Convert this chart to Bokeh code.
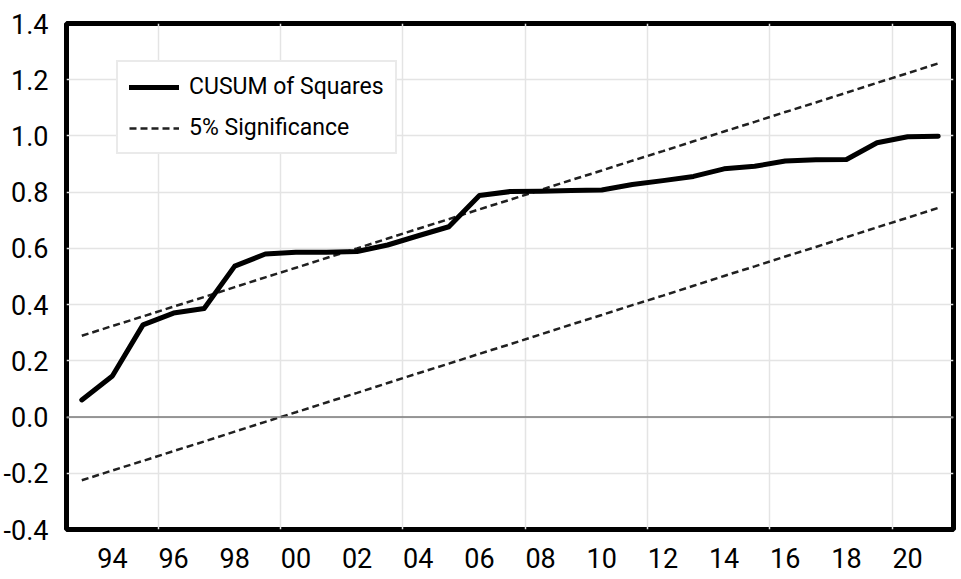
from bokeh.plotting import figure
from bokeh.models import FixedTicker, Span, Legend, LegendItem, Range1d, NumeralTickFormatter
from bokeh.embed import file_html
from bokeh.resources import INLINE

# ---- data ----
years = list(range(1993, 2022))
cusum = [0.061, 0.146, 0.328, 0.370, 0.386, 0.537, 0.580, 0.586, 0.586, 0.589,
         0.612, 0.645, 0.677, 0.788, 0.802, 0.803, 0.806, 0.808, 0.827, 0.841,
         0.856, 0.883, 0.892, 0.911, 0.915, 0.916, 0.976, 0.997, 0.999]
upper = [0.289, 0.324, 0.358, 0.393, 0.427, 0.462, 0.497, 0.531, 0.566, 0.600,
         0.635, 0.670, 0.704, 0.739, 0.773, 0.808, 0.843, 0.877, 0.912, 0.946,
         0.981, 1.016, 1.050, 1.085, 1.119, 1.154, 1.189, 1.223, 1.258]
lower = [-0.225, -0.190, -0.156, -0.121, -0.087, -0.052, -0.017, 0.017, 0.052, 0.086,
         0.121, 0.156, 0.190, 0.225, 0.259, 0.294, 0.329, 0.363, 0.398, 0.432,
         0.467, 0.502, 0.536, 0.571, 0.605, 0.640, 0.675, 0.709, 0.744]
x_ticks = [1994, 1996, 1998, 2000, 2002, 2004, 2006, 2008, 2010, 2012, 2014, 2016, 2018, 2020]
x_tick_labels = ["94", "96", "98", "00", "02", "04", "06", "08", "10", "12", "14", "16", "18", "20"]
x_grid = [1995.5, 1999.5, 2003.5, 2007.5, 2011.5, 2015.5, 2019.5]
y_ticks = [-0.4, -0.2, 0.0, 0.2, 0.4, 0.6, 0.8, 1.0, 1.2, 1.4]
series_labels = ["CUSUM of Squares", "5% Significance"]

FONT = "Roboto"

p = figure(width=961, height=579,
           x_range=Range1d(1992.5, 2021.5), y_range=Range1d(-0.4, 1.4),
           output_backend="svg", toolbar_location=None,
           min_border_left=66, min_border_top=23, min_border_right=8, min_border_bottom=50)

p.background_fill_color = "white"
p.border_fill_color = "white"
p.outline_line_color = "black"
p.outline_line_width = 5

# grids
p.xgrid.ticker = FixedTicker(ticks=x_grid)
p.ygrid.ticker = FixedTicker(ticks=y_ticks)
p.xgrid.grid_line_color = "#e4e4e4"
p.ygrid.grid_line_color = "#e4e4e4"
p.xgrid.grid_line_width = 1.5
p.ygrid.grid_line_width = 1.5

# axes
p.xaxis.ticker = FixedTicker(ticks=x_ticks)
p.xaxis.major_label_overrides = {t: l for t, l in zip(x_ticks, x_tick_labels)}
p.yaxis.ticker = FixedTicker(ticks=y_ticks)
p.yaxis.formatter = NumeralTickFormatter(format="0.0")
for ax in (p.xaxis, p.yaxis):
    ax.axis_line_color = None
    ax.major_tick_line_color = None
    ax.minor_tick_line_color = None
    ax.major_label_text_font = FONT
    ax.major_label_text_font_size = "27px"
    ax.major_label_text_color = "black"
p.xaxis.major_label_standoff = 12
p.yaxis.major_label_standoff = 12

# zero line
p.add_layout(Span(location=0, dimension="width", line_color="#7a7a7a", line_width=1.5))

r_up = p.line(years, upper, line_color="#202020", line_width=2.5, line_dash="7 4")
r_lo = p.line(years, lower, line_color="#202020", line_width=2.5, line_dash="7 4")
r_cu = p.line(years, cusum, line_color="black", line_width=5, line_join="round", line_cap="round")

legend = Legend(items=[LegendItem(label=series_labels[0], renderers=[r_cu]),
                       LegendItem(label=series_labels[1], renderers=[r_up])],
                location=(50, 375))
legend.label_text_font = FONT
legend.label_text_font_size = "23px"
legend.label_text_color = "black"
legend.glyph_width = 50
legend.glyph_height = 26
legend.label_height = 26
legend.label_standoff = 10
legend.spacing = 14
legend.padding = 11
legend.margin = 0
legend.border_line_color = "#d6d6d6"
legend.border_line_width = 2.5
legend.background_fill_color = "white"
legend.background_fill_alpha = 1
p.add_layout(legend, "center")

open("out.html", "w").write(file_html(p, INLINE))
